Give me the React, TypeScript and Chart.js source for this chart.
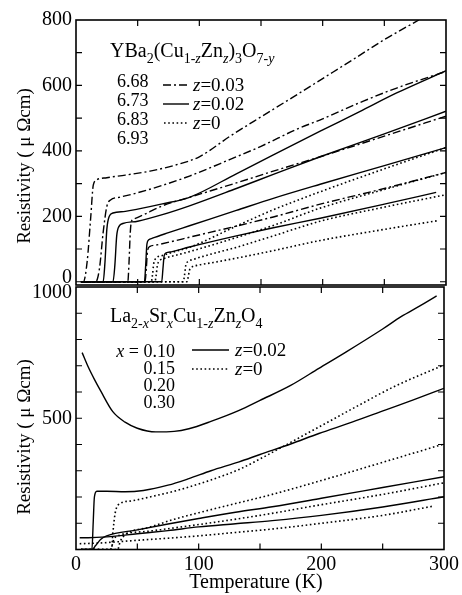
import React, { useEffect, useRef } from "react";
import { Chart, registerables } from "chart.js";

Chart.register(...registerables);

const FONT = '"Liberation Serif", "Times New Roman", Times, serif';
const W = 462;
const H = 595;

// ---- axis ticks ----
const tempTicks = [0, 50, 100, 150, 200, 250, 300];
const tempLabels = [0, 100, 200, 300];
const ybcoTicks = [0, 100, 200, 300, 400, 500, 600, 700, 800];
const ybcoLabels = [200, 400, 600, 800];
const ybcoEdgeLabel = "0";
const lscoTicks = [0, 100, 200, 300, 400, 500, 600, 700, 800, 900, 1000];
const lscoLabels = [500];
const lscoEdgeLabel = "1000";

// ---- legend texts ----
const ybcoOxygen = ["6.68", "6.73", "6.83", "6.93"];
const ybcoZ = ["0.03", "0.02", "0"];
const lscoX = ["0.10", "0.15", "0.20", "0.30"];
const lscoZ = ["0.02", "0"];

// ---- YBa2(Cu1-zZnz)3O7-y : z = 0.03 (dash-dot) ----
const ybZ03aT = [4, 6, 9, 12, 14, 17, 25, 40, 60, 80, 100, 125, 150, 175, 200, 225, 250, 278];
const ybZ03aR = [0, 0, 60, 200, 295, 312, 318, 326, 338, 356, 382, 445, 504, 562, 621, 680, 740, 800];
const ybZ03bT = [4, 16, 19, 22, 25, 28, 35, 50, 68, 92, 125, 150, 179, 200, 233, 260, 300];
const ybZ03bR = [0, 0, 40, 150, 230, 250, 258, 272, 292, 323, 374, 414, 466, 498, 552, 592, 643];
const ybZ03cT = [4, 42, 43, 44, 45, 47, 55, 70, 92, 130, 160, 198, 250, 300];
const ybZ03cR = [0, 0, 60, 150, 185, 192, 205, 232, 258, 302, 338, 382, 445, 506];
const ybZ03dT = [4, 56, 57, 58, 60, 65, 80, 92, 130, 160, 198, 250, 300];
const ybZ03dR = [0, 0, 40, 95, 108, 112, 125, 136, 170, 198, 237, 285, 334];
// ---- z = 0.02 (solid) ----
const ybZ02aT = [4, 22, 23.5, 25, 27, 30, 40, 50, 70, 92, 130, 160, 198, 230, 260, 300];
const ybZ02aR = [0, 0, 60, 160, 200, 210, 215, 222, 238, 258, 330, 388, 460, 520, 577, 645];
const ybZ02bT = [4, 30, 31.5, 33, 35, 38, 50, 70, 92, 130, 160, 198, 250, 300];
const ybZ02bR = [0, 0, 50, 140, 170, 178, 185, 205, 232, 285, 328, 382, 452, 521];
const ybZ02cT = [4, 55.5, 56.5, 57.5, 59, 62, 75, 92, 130, 160, 198, 250, 300];
const ybZ02cR = [0, 0, 50, 115, 128, 133, 150, 171, 218, 255, 298, 355, 410];
const ybZ02dT = [4, 69.5, 70.5, 71.5, 73, 78, 92, 130, 160, 198, 250, 292];
const ybZ02dR = [0, 0, 40, 80, 88, 92, 106, 140, 165, 194, 237, 273];
// ---- z = 0 (dotted) ----
const ybZ0aT = [4, 61, 62, 63, 65, 70, 80, 92, 130, 160, 198, 250, 300];
const ybZ0aR = [0, 0, 20, 55, 72, 80, 92, 105, 170, 220, 275, 345, 410];
const ybZ0bT = [4, 64, 65, 66, 68, 72, 80, 92, 130, 160, 198, 250, 300];
const ybZ0bR = [0, 0, 20, 50, 65, 72, 80, 92, 135, 172, 225, 282, 334];
const ybZ0cT = [4, 87, 88, 89, 91, 95, 110, 130, 160, 198, 250, 300];
const ybZ0cR = [0, 0, 20, 50, 62, 68, 85, 105, 140, 185, 228, 266];
const ybZ0dT = [4, 90, 91, 92, 94, 98, 110, 130, 160, 198, 250, 294];
const ybZ0dR = [0, 0, 15, 35, 45, 50, 58, 72, 95, 126, 160, 187];

// ---- La2-xSrxCu1-zZnzO4 : z = 0.02 (solid) ----
const lsZ02aT = [5, 10, 15, 20, 30, 40, 50, 65, 80, 92, 110, 133, 150, 175, 198, 220, 250, 265, 280, 294];
const lsZ02aR = [750, 695, 648, 605, 525, 485, 462, 448, 450, 460, 488, 530, 568, 625, 690, 752, 840, 887, 927, 966];
const lsZ02bT = [4, 13, 14, 15, 17, 25, 40, 55, 75, 92, 110, 133, 150, 175, 198, 225, 252, 275, 300];
const lsZ02bR = [0, 0, 100, 200, 222, 222, 220, 225, 245, 270, 300, 334, 362, 402, 442, 485, 531, 570, 614];
const lsZ02cT = [4, 13, 16, 20, 25, 50, 75, 100, 130, 160, 200, 250, 300];
const lsZ02cR = [0, 0, 15, 38, 52, 75, 97, 118, 142, 163, 195, 236, 277];
const lsZ02dT = [3, 10, 25, 50, 75, 100, 130, 160, 200, 250, 300];
const lsZ02dR = [45, 45, 48, 60, 72, 86, 98, 110, 130, 162, 201];
// ---- z = 0 (dotted) ----
const lsZ0aT = [4, 29, 30, 32, 36, 45, 60, 80, 92, 110, 133, 150, 175, 206, 230, 260, 300];
const lsZ0aR = [0, 0, 60, 140, 175, 185, 200, 222, 238, 265, 305, 345, 408, 487, 548, 622, 703];
const lsZ0bT = [4, 34, 36, 40, 60, 80, 100, 130, 160, 206, 250, 300];
const lsZ0bR = [0, 0, 30, 55, 85, 115, 140, 175, 210, 271, 332, 402];
const lsZ0cT = [4, 28, 31, 36, 60, 100, 150, 198, 250, 300];
const lsZ0cR = [0, 0, 40, 55, 70, 95, 130, 169, 210, 254];
const lsZ0dT = [3, 20, 50, 75, 100, 130, 160, 200, 250, 291];
const lsZ0dR = [22, 25, 35, 43, 52, 65, 78, 100, 130, 165];

type Style = "solid" | "dashdot" | "dotted";
const DASH: Record<Style, number[]> = {
  solid: [],
  dashdot: [8, 3, 2, 3],
  dotted: [1.6, 2.6],
};

const ybcoCurves: [number[], number[], Style][] = [
  [ybZ03aT, ybZ03aR, "dashdot"],
  [ybZ03bT, ybZ03bR, "dashdot"],
  [ybZ03cT, ybZ03cR, "dashdot"],
  [ybZ03dT, ybZ03dR, "dashdot"],
  [ybZ02aT, ybZ02aR, "solid"],
  [ybZ02bT, ybZ02bR, "solid"],
  [ybZ02cT, ybZ02cR, "solid"],
  [ybZ02dT, ybZ02dR, "solid"],
  [ybZ0aT, ybZ0aR, "dotted"],
  [ybZ0bT, ybZ0bR, "dotted"],
  [ybZ0cT, ybZ0cR, "dotted"],
  [ybZ0dT, ybZ0dR, "dotted"],
];
const lscoCurves: [number[], number[], Style][] = [
  [lsZ02aT, lsZ02aR, "solid"],
  [lsZ02bT, lsZ02bR, "solid"],
  [lsZ02cT, lsZ02cR, "solid"],
  [lsZ02dT, lsZ02dR, "solid"],
  [lsZ0aT, lsZ0aR, "dotted"],
  [lsZ0bT, lsZ0bR, "dotted"],
  [lsZ0cT, lsZ0cR, "dotted"],
  [lsZ0dT, lsZ0dR, "dotted"],
];

function makeDataset(c: [number[], number[], Style]) {
  const [t, r, s] = c;
  return {
    data: t.map((x, i) => ({ x, y: r[i] })),
    borderColor: "#000",
    borderWidth: s === "dotted" ? 1.6 : 1.4,
    borderDash: DASH[s],
    pointRadius: 0,
    fill: false,
    cubicInterpolationMode: "monotone",
  };
}

type Seg = { t: string; sub?: boolean; it?: boolean };

function segFont(s: Seg, size: number) {
  const fs = s.sub ? size * 0.7 : size;
  return `${s.it ? "italic " : ""}${fs}px ${FONT}`;
}
function richWidth(ctx: CanvasRenderingContext2D, segs: Seg[], size: number) {
  let w = 0;
  for (const s of segs) {
    ctx.font = segFont(s, size);
    w += ctx.measureText(s.t).width;
  }
  return w;
}
function drawRich(ctx: CanvasRenderingContext2D, segs: Seg[], x: number, base: number, size: number) {
  let cx = x;
  ctx.textBaseline = "alphabetic";
  ctx.textAlign = "left";
  for (const s of segs) {
    ctx.font = segFont(s, size);
    ctx.fillText(s.t, cx, s.sub ? base + size * 0.28 : base);
    cx += ctx.measureText(s.t).width;
  }
}

const ybcoFormula: Seg[] = [
  { t: "YBa" }, { t: "2", sub: true }, { t: "(Cu" }, { t: "1-", sub: true }, { t: "z", sub: true, it: true },
  { t: "Zn" }, { t: "z", sub: true, it: true }, { t: ")" }, { t: "3", sub: true }, { t: "O" },
  { t: "7-", sub: true }, { t: "y", sub: true, it: true },
];
const lscoFormula: Seg[] = [
  { t: "La" }, { t: "2-", sub: true }, { t: "x", sub: true, it: true }, { t: "Sr" }, { t: "x", sub: true, it: true },
  { t: "Cu" }, { t: "1-", sub: true }, { t: "z", sub: true, it: true }, { t: "Zn" }, { t: "z", sub: true, it: true },
  { t: "O" }, { t: "4", sub: true },
];

const decor = {
  id: "decor",
  afterDatasetsDraw(chart: any, _args: any, o: any) {
    const { ctx, chartArea: ca, scales } = chart;
    const xs = scales.x;
    const ys = scales.y;
    ctx.save();
    ctx.strokeStyle = "#000";
    ctx.fillStyle = "#000";
    ctx.setLineDash([]);
    ctx.lineWidth = 1.6;
    ctx.strokeRect(ca.left, ca.top, ca.right - ca.left, ca.bottom - ca.top);
    ctx.lineWidth = 1.2;
    const L = 6;
    ctx.beginPath();
    for (const v of o.xTicks) {
      const p = xs.getPixelForValue(v);
      if (p <= ca.left + 1 || p >= ca.right - 1) continue;
      ctx.moveTo(p, ca.bottom);
      ctx.lineTo(p, ca.bottom - L);
      ctx.moveTo(p, ca.top);
      ctx.lineTo(p, ca.top + L);
    }
    for (const v of o.yTicks) {
      const p = ys.getPixelForValue(v);
      if (p <= ca.top + 1 || p >= ca.bottom - 1) continue;
      ctx.moveTo(ca.left, p);
      ctx.lineTo(ca.left + L, p);
      ctx.moveTo(ca.right, p);
      ctx.lineTo(ca.right - L, p);
    }
    ctx.stroke();

    // edge tick label, nudged away from the neighbouring panel
    if (o.edge) {
      ctx.font = `20px ${FONT}`;
      ctx.textAlign = "right";
      ctx.textBaseline = "middle";
      ctx.fillText(o.edge.text, ca.left - 4, ys.getPixelForValue(o.edge.value) + o.edge.dy);
    }

    // y title
    ctx.save();
    ctx.translate(o.yTitle.x, o.yTitle.y);
    ctx.rotate(-Math.PI / 2);
    ctx.font = `19px ${FONT}`;
    ctx.textAlign = "center";
    ctx.textBaseline = "middle";
    ctx.fillText("Resistivity ( \u03bc \u03a9cm)", 0, 0);
    ctx.restore();

    if (o.xTitle) {
      ctx.font = `20px ${FONT}`;
      ctx.textAlign = "center";
      ctx.textBaseline = "middle";
      ctx.fillText("Temperature (K)", o.xTitle.x, o.xTitle.y);
    }

    drawRich(ctx, o.formula.segs, o.formula.x, o.formula.base, 20);

    for (const v of o.values) {
      const w = richWidth(ctx, v.segs, 18);
      const x0 = v.align === "right" ? v.x - w : v.x;
      drawRich(ctx, v.segs, x0, v.cy + 6, 18);
    }
    for (const k of o.keys) {
      ctx.beginPath();
      ctx.setLineDash(DASH[k.style as Style]);
      ctx.lineWidth = k.style === "dotted" ? 1.6 : 1.4;
      ctx.moveTo(k.x1, k.y);
      ctx.lineTo(k.x2, k.y);
      ctx.stroke();
      ctx.setLineDash([]);
      drawRich(ctx, k.label, k.lx, k.y + 6, 19);
    }
    ctx.restore();
  },
};

const tickFont = { family: FONT, size: 20 };

function fixedTicks(values: number[]) {
  return (s: any) => {
    s.ticks = values.map((v) => ({ value: v }));
  };
}

function topConfig(): any {
  return {
    type: "line",
    data: { datasets: ybcoCurves.map(makeDataset) },
    options: {
      responsive: false,
      animation: false,
      events: [],
      layout: { padding: { left: 0, right: 16, top: 20, bottom: H - 285 } },
      scales: {
        x: { type: "linear", min: 0, max: 300, display: false },
        y: {
          type: "linear",
          min: -10,
          max: 800,
          grid: { display: false, drawTicks: false },
          border: { display: false },
          afterBuildTicks: fixedTicks(ybcoTicks),
          ticks: {
            autoSkip: false,
            padding: 4,
            color: "#000",
            font: tickFont,
            callback: (v: number) => (ybcoLabels.includes(Number(v)) ? String(v) : ""),
          },
          afterFit: (s: any) => {
            s.width = 76;
          },
        },
      },
      plugins: {
        legend: { display: false },
        tooltip: { enabled: false },
        decor: {
          xTicks: tempTicks,
          yTicks: ybcoTicks,
          edge: { text: ybcoEdgeLabel, value: 0, dy: -4 },
          yTitle: { x: 25, y: 166 },
          formula: { segs: ybcoFormula, x: 110, base: 57 },
          values: ybcoOxygen.map((s, i) => ({ segs: [{ t: s }], x: 117, cy: [80.5, 99.5, 118.5, 137.5][i], align: "left" })),
          keys: [
            { style: "dashdot", x1: 163, x2: 189, y: 85, lx: 193, label: [{ t: "z", it: true }, { t: "=" + ybcoZ[0] }] },
            { style: "solid", x1: 163, x2: 189, y: 104, lx: 193, label: [{ t: "z", it: true }, { t: "=" + ybcoZ[1] }] },
            { style: "dotted", x1: 164, x2: 189, y: 123, lx: 193, label: [{ t: "z", it: true }, { t: "=" + ybcoZ[2] }] },
          ],
        },
      },
    },
    plugins: [decor],
  };
}

function botConfig(): any {
  return {
    type: "line",
    data: { datasets: lscoCurves.map(makeDataset) },
    options: {
      responsive: false,
      animation: false,
      events: [],
      layout: { padding: { left: 0, right: 16, top: 287, bottom: 0 } },
      scales: {
        x: {
          type: "linear",
          min: 0,
          max: 300,
          grid: { display: false, drawTicks: false },
          border: { display: false },
          afterBuildTicks: fixedTicks(tempTicks),
          ticks: {
            autoSkip: false,
            maxRotation: 0,
            padding: 3,
            color: "#000",
            font: tickFont,
            callback: (v: number) => (tempLabels.includes(Number(v)) ? String(v) : ""),
          },
          afterFit: (s: any) => {
            s.height = 45.5;
          },
        },
        y: {
          type: "linear",
          min: 0,
          max: 1000,
          grid: { display: false, drawTicks: false },
          border: { display: false },
          afterBuildTicks: fixedTicks(lscoTicks),
          ticks: {
            autoSkip: false,
            padding: 4,
            color: "#000",
            font: tickFont,
            callback: (v: number) => (lscoLabels.includes(Number(v)) ? String(v) : ""),
          },
          afterFit: (s: any) => {
            s.width = 76;
          },
        },
      },
      plugins: {
        legend: { display: false },
        tooltip: { enabled: false },
        decor: {
          xTicks: tempTicks,
          yTicks: lscoTicks,
          edge: { text: lscoEdgeLabel, value: 1000, dy: 6 },
          yTitle: { x: 25, y: 437 },
          xTitle: { x: 256, y: 583 },
          formula: { segs: lscoFormula, x: 110, base: 322 },
          values: lscoX.map((s, i) => ({
            segs: i === 0 ? [{ t: "x", it: true }, { t: " = " + s }] : [{ t: s }],
            x: 175,
            cy: [351, 368, 385, 402][i],
            align: "right",
          })),
          keys: [
            { style: "solid", x1: 192, x2: 229, y: 350, lx: 235, label: [{ t: "z", it: true }, { t: "=" + lscoZ[0] }] },
            { style: "dotted", x1: 192, x2: 229, y: 369, lx: 235, label: [{ t: "z", it: true }, { t: "=" + lscoZ[1] }] },
          ],
        },
      },
    },
    plugins: [decor],
  };
}

export default function App() {
  const topRef = useRef<HTMLCanvasElement>(null);
  const botRef = useRef<HTMLCanvasElement>(null);
  useEffect(() => {
    const c1 = new Chart(topRef.current as HTMLCanvasElement, topConfig());
    const c2 = new Chart(botRef.current as HTMLCanvasElement, botConfig());
    return () => {
      c1.destroy();
      c2.destroy();
    };
  }, []);
  return (
    <div style={{ position: "absolute", left: 0, top: 0, width: W, height: H, background: "#fff" }}>
      <canvas ref={botRef} width={W} height={H} style={{ position: "absolute", left: 0, top: 0 }} />
      <canvas ref={topRef} width={W} height={H} style={{ position: "absolute", left: 0, top: 0 }} />
    </div>
  );
}
